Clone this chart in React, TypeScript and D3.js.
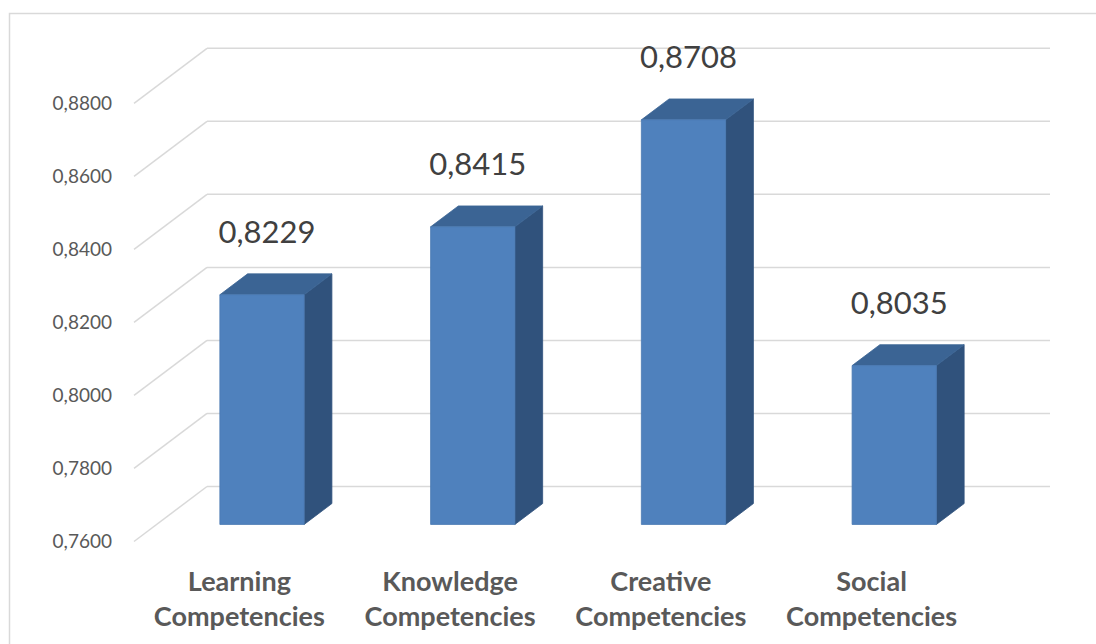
import React from "react";
import * as d3 from "d3";

// chart data
const categories = [
  "Learning Competencies",
  "Knowledge Competencies",
  "Creative Competencies",
  "Social Competencies",
];
const values = [0.8229, 0.8415, 0.8708, 0.8035];
const yTicks = [0.76, 0.78, 0.8, 0.82, 0.84, 0.86, 0.88];

const W = 1096;
const H = 644;

// 3d look: back wall plane + a depth vector towards the viewer
const depthX = -73;
const depthY = 55;
const barFront = 0.69;
const barBack = 0.31;

const fmt = (v: number) => v.toFixed(4).replace(".", ",");

const colors = {
  front: "#4f81bd",
  top: "#3b6494",
  side: "#30527c",
  grid: "#d9d9d9",
  tick: "#595959",
  label: "#404040",
};

const App = () => {
  const y = d3.scaleLinear().domain([0.76, 0.88]).range([486.5, 48.3]);
  const x = d3.scaleBand<string>().domain(categories).range([207, 1050]).padding(0);
  const barW = x.bandwidth() * 0.4;

  const proj = (px: number, py: number, f: number): [number, number] => [
    px + f * depthX,
    py + f * depthY,
  ];
  const poly = (pts: [number, number][]) => pts.map((p) => p.join(",")).join(" ");

  const base = y.domain()[0];

  return (
    <div style={{ position: "absolute", left: 0, top: 0 }}>
      <svg width={W} height={H} style={{ display: "block", background: "#fff" }}>
        <rect x={9.5} y={13.5} width={W + 20} height={H + 40} fill="none" stroke={colors.grid} strokeWidth={1.5} />

        {/* walls gridlines */}
        {yTicks.map((t) => {
          const [fx, fy] = proj(x.range()[0], y(t), 1);
          return (
            <g key={t}>
              <line x1={fx} y1={fy} x2={x.range()[0]} y2={y(t)} stroke={colors.grid} strokeWidth={1.5} />
              <line x1={x.range()[0]} y1={y(t)} x2={x.range()[1]} y2={y(t)} stroke={colors.grid} strokeWidth={1.5} />
              <text
                x={112}
                y={fy}
                dy="0.36em"
                textAnchor="end"
                fontFamily="Lato, 'Open Sans', sans-serif"
                fontSize={19}
                fill={colors.tick}
              >
                {fmt(t)}
              </text>
            </g>
          );
        })}

        {/* bars */}
        {categories.map((c, i) => {
          const cx = (x(c) as number) + x.bandwidth() / 2;
          const x0 = cx - barW / 2;
          const x1 = cx + barW / 2;
          const yt = y(values[i]);
          const yb = y(base);
          const front = poly([
            proj(x0, yt, barFront),
            proj(x1, yt, barFront),
            proj(x1, yb, barFront),
            proj(x0, yb, barFront),
          ]);
          const side = poly([
            proj(x1, yt, barFront),
            proj(x1, yt, barBack),
            proj(x1, yb, barBack),
            proj(x1, yb, barFront),
          ]);
          const top = poly([
            proj(x0, yt, barFront),
            proj(x1, yt, barFront),
            proj(x1, yt, barBack),
            proj(x0, yt, barBack),
          ]);
          const [lx, ly] = proj(cx, yt, barFront);
          const [cxFront, floorY] = proj(cx, yb, 1);
          const words = c.split(" ");
          return (
            <g key={c}>
              <polygon points={side} fill={colors.side} stroke={colors.side} strokeWidth={0.8} />
              <polygon points={top} fill={colors.top} stroke={colors.top} strokeWidth={0.8} />
              <polygon points={front} fill={colors.front} stroke="#4a7ab3" strokeWidth={0.8} />
              <text
                x={lx + 5}
                y={ly - 52}
                textAnchor="middle"
                fontFamily="Lato, 'Open Sans', sans-serif"
                fontSize={31}
                fill={colors.label}
              >
                {fmt(values[i])}
              </text>
              {words.map((w, j) => (
                <text
                  key={w}
                  x={cxFront}
                  y={floorY + 49 + j * 35}
                  textAnchor="middle"
                  fontFamily="Lato, 'Open Sans', sans-serif"
                  fontWeight="bold"
                  fontSize={27}
                  fill={colors.tick}
                >
                  {w}
                </text>
              ))}
            </g>
          );
        })}
      </svg>
    </div>
  );
};

export default App;
